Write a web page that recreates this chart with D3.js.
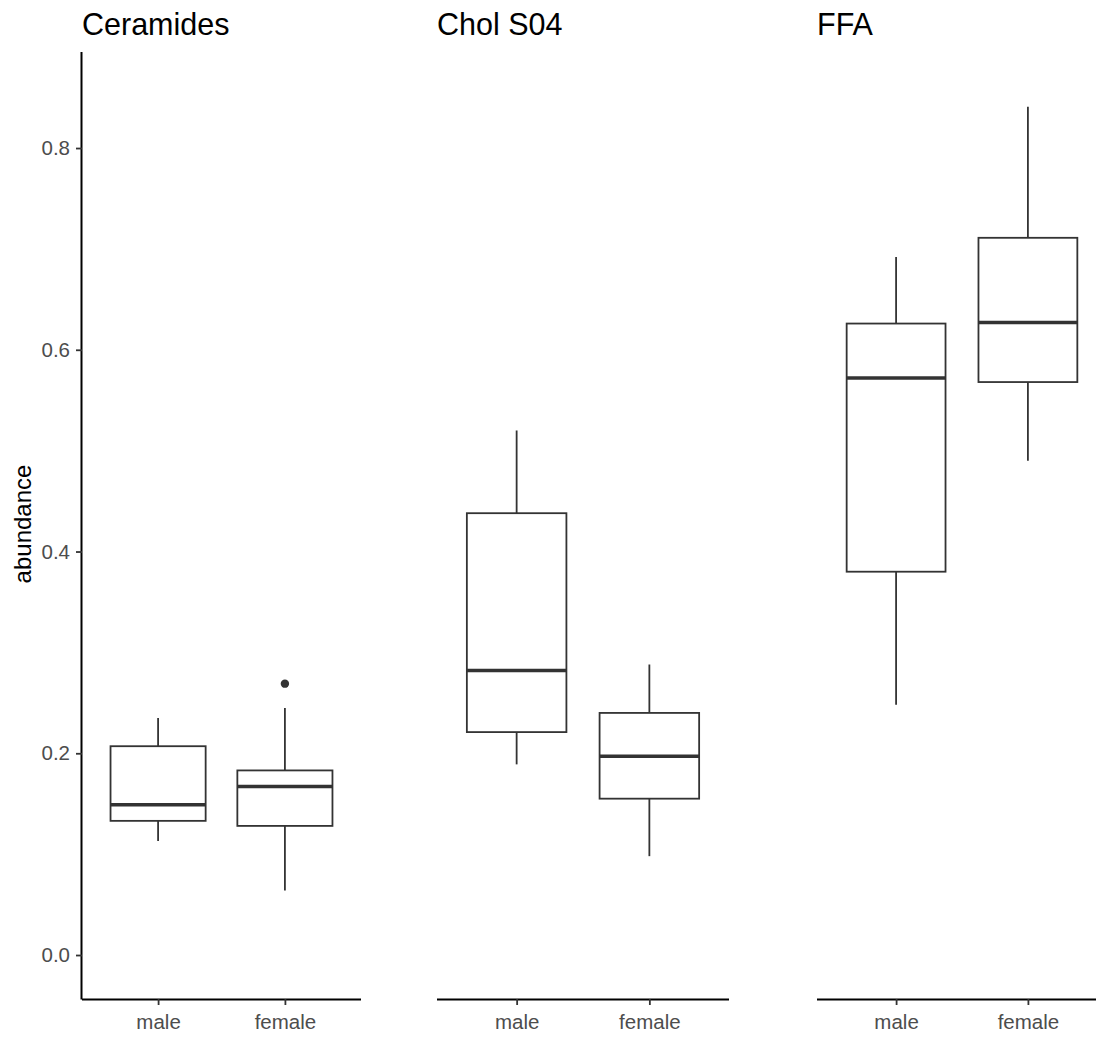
<!DOCTYPE html>
<html>
<head>
<meta charset="utf-8">
<script src="https://cdn.jsdelivr.net/npm/d3@7"></script>
<style>
  html, body { margin: 0; padding: 0; background: #ffffff; }
  svg { display: block; font-family: "Liberation Sans", Arial, sans-serif; }
</style>
</head>
<body>
<svg id="chart" width="1096" height="1037"></svg>
<script>
// Lipid classes (one panel each) and the two groups on every x axis
const lipidClasses = ["Ceramides", "Chol S04", "FFA"];
const groups = ["male", "female"];

// Box-plot summaries per class, in group order: lower whisker, Q1, median, Q3, upper whisker
const ceramidesStats = [
  [0.113, 0.133, 0.149, 0.207, 0.235],
  [0.064, 0.128, 0.167, 0.183, 0.245]
];
const cholS04Stats = [
  [0.189, 0.221, 0.282, 0.438, 0.520],
  [0.098, 0.155, 0.197, 0.240, 0.288]
];
const ffaStats = [
  [0.248, 0.380, 0.572, 0.626, 0.692],
  [0.490, 0.568, 0.627, 0.711, 0.841]
];
// Points beyond the whiskers: [class, group, value]
const outliers = [["Ceramides", "female", 0.269]];

// Y-axis ticks
const yTicks = [0.0, 0.2, 0.4, 0.6, 0.8];

const statsByClass = {
  "Ceramides": ceramidesStats,
  "Chol S04": cholS04Stats,
  "FFA": ffaStats
};

const svg = d3.select("#chart");

// Shared vertical scale
const y = d3.scaleLinear().domain([-0.0436, 0.8952]).range([999, 52]);

// Horizontal extent of each panel
const panelRanges = {
  "Ceramides": [82, 361],
  "Chol S04": [437, 729],
  "FFA": [817, 1107]
};

const boxStroke = "#333333";

lipidClasses.forEach((cls, i) => {
  const [x0, x1] = panelRanges[cls];
  const x = d3.scalePoint().domain(groups).range([x0, x1]).padding(0.6);
  const boxW = x.step() * 0.75;
  const g = svg.append("g");

  // Panel title
  g.append("text")
    .attr("x", x0)
    .attr("y", 35)
    .attr("font-size", 30.5)
    .attr("fill", "#000000")
    .text(cls);

  // Boxes
  const rows = statsByClass[cls].map((s, k) => ({ group: groups[k], s }));
  const box = g.selectAll("g.box").data(rows).enter().append("g").attr("class", "box");

  box.append("line")
    .attr("x1", d => x(d.group)).attr("x2", d => x(d.group))
    .attr("y1", d => y(d.s[3])).attr("y2", d => y(d.s[4]))
    .attr("stroke", boxStroke).attr("stroke-width", 1.8);
  box.append("line")
    .attr("x1", d => x(d.group)).attr("x2", d => x(d.group))
    .attr("y1", d => y(d.s[1])).attr("y2", d => y(d.s[0]))
    .attr("stroke", boxStroke).attr("stroke-width", 1.8);
  box.append("rect")
    .attr("x", d => x(d.group) - boxW / 2)
    .attr("width", boxW)
    .attr("y", d => y(d.s[3]))
    .attr("height", d => y(d.s[1]) - y(d.s[3]))
    .attr("fill", "#ffffff")
    .attr("stroke", boxStroke).attr("stroke-width", 1.8);
  box.append("line")
    .attr("x1", d => x(d.group) - boxW / 2).attr("x2", d => x(d.group) + boxW / 2)
    .attr("y1", d => y(d.s[2])).attr("y2", d => y(d.s[2]))
    .attr("stroke", boxStroke).attr("stroke-width", 3.6);

  // Outlying points
  g.selectAll("circle.out")
    .data(outliers.filter(o => o[0] === cls))
    .enter().append("circle")
    .attr("class", "out")
    .attr("cx", d => x(d[1]))
    .attr("cy", d => y(d[2]))
    .attr("r", 4.2)
    .attr("fill", boxStroke);

  // Bottom axis
  const xAxis = g.append("g")
    .attr("transform", "translate(0,999)")
    .call(d3.axisBottom(x).tickSize(6).tickPadding(9));
  xAxis.select(".domain")
    .attr("d", `M${x0},0.5H${x1}`)
    .attr("stroke", "#000000").attr("stroke-width", 2);
  xAxis.selectAll(".tick line").attr("stroke", boxStroke).attr("stroke-width", 1.8);
  xAxis.selectAll(".tick text")
    .attr("font-size", 20.5)
    .attr("fill", "#4D4D4D")
    .attr("font-family", "Liberation Sans, Arial, sans-serif")
    .attr("dy", "0.71em");

  // Left axis only on the first panel
  if (i === 0) {
    const yAxis = g.append("g")
      .attr("transform", `translate(${x0},0)`)
      .call(d3.axisLeft(y).tickValues(yTicks).tickFormat(d3.format(".1f")).tickSize(6).tickPadding(6));
    yAxis.select(".domain")
      .attr("d", "M-0.5,52V999.5")
      .attr("stroke", "#000000").attr("stroke-width", 2);
    yAxis.selectAll(".tick line").attr("stroke", boxStroke).attr("stroke-width", 1.8);
    yAxis.selectAll(".tick text")
      .attr("font-size", 20.5)
      .attr("fill", "#4D4D4D")
      .attr("font-family", "Liberation Sans, Arial, sans-serif");
  }
});

// Y-axis title
svg.append("text")
  .attr("transform", "translate(31,524) rotate(-90)")
  .attr("text-anchor", "middle")
  .attr("font-size", 24)
  .attr("fill", "#000000")
  .text("abundance");
</script>
</body>
</html>
